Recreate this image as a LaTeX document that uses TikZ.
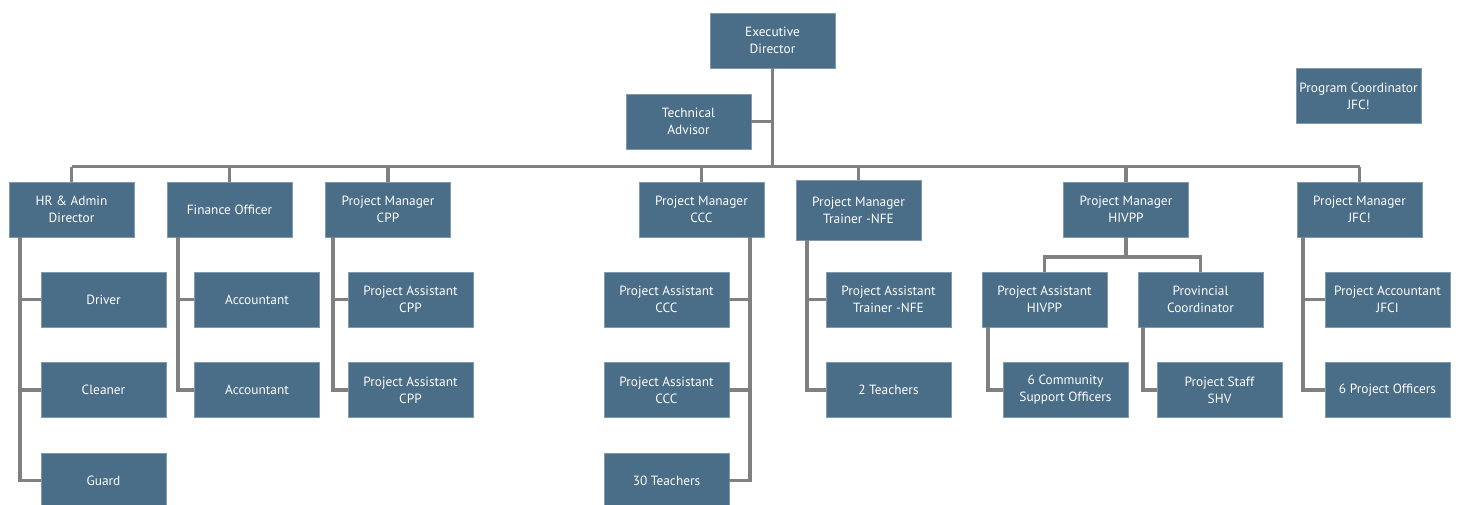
\documentclass[tikz,border=0pt]{standalone}
\usepackage{fontspec}
\setmainfont{PT Sans}
\usepackage{tikz}
\definecolor{boxblue}{HTML}{4A6D88}
\definecolor{linegray}{HTML}{808080}

\begin{document}
\begin{tikzpicture}[x=0.02cm,y=-0.02cm,
  box/.style={rectangle,fill=boxblue,draw=boxblue!70!white,line width=0.4pt,
    minimum width=2.5cm,minimum height=1.1cm,inner sep=0pt,align=center,
    text=white,font=\fontsize{7.6}{9.6}\selectfont},
  conn/.style={draw=linegray,line width=2.2pt}]
  \useasboundingbox (0,0) rectangle (1461,504);
  % top
  \node (exec) at (772.5,40.5) [box] {Executive\\Director};
  \node (tech) at (688.5,121.5) [box] {Technical\\Advisor};
  \node (prog) at (1358.5,96) [box] {Program Coordinator\\JFC!};
  % managers
  \node (hr) at (71.5,209.5) [box] {HR \& Admin\\Director};
  \node (fin) at (229.5,209.5) [box] {Finance Officer};
  \node (pmcpp) at (388,209.5) [box] {Project Manager\\CPP};
  \node (pmccc) at (701.5,209.5) [box] {Project Manager\\CCC};
  \node (pmnfe) at (858.5,210) [box,minimum height=1.2cm] {Project Manager\\Trainer -NFE};
  \node (pmhiv) at (1126,209.5) [box] {Project Manager\\HIVPP};
  \node (pmjfc) at (1359.5,209.5) [box] {Project Manager\\JFC!};
  % staff
  \node (driver) at (103.5,299.5) [box] {Driver};
  \node (cleaner) at (103.5,390) [box] {Cleaner};
  \node (guard) at (103.5,480.5) [box] {Guard};
  \node (acca) at (257,299.5) [box] {Accountant};
  \node (accb) at (257,390) [box] {Accountant};
  \node (pacppa) at (410.5,299.5) [box] {Project Assistant\\CPP};
  \node (pacppb) at (410.5,390) [box] {Project Assistant\\CPP};
  \node (paccca) at (666.5,299.5) [box] {Project Assistant\\CCC};
  \node (pacccb) at (666.5,390) [box] {Project Assistant\\CCC};
  \node (teachccc) at (666.5,480.5) [box] {30 Teachers};
  \node (panfe) at (888.5,299.5) [box] {Project Assistant\\Trainer -NFE};
  \node (teachnfe) at (888.5,390) [box] {2 Teachers};
  \node (pahiv) at (1044.5,299.5) [box] {Project Assistant\\HIVPP};
  \node (prov) at (1200.5,299.5) [box] {Provincial\\Coordinator};
  \node (cso) at (1065.5,390) [box] {6 Community\\Support Officers};
  \node (shv) at (1219.5,390) [box] {Project Staff\\SHV};
  \node (pajfc) at (1387.5,299.5) [box] {Project Accountant\\JFCI};
  \node (offjfc) at (1387.5,390) [box] {6 Project Officers};

  % main bus
  \coordinate (bus) at (exec.south |- 0,166.5);
  \draw[conn] (exec.south) -- (bus);
  \draw[conn] (tech.east) -- (tech.east -| exec.south);
  \draw[conn] (hr.north |- bus) -- (pmjfc.north |- bus);
  \foreach \m in {hr,fin,pmcpp,pmccc,pmnfe,pmhiv,pmjfc}
    \draw[conn] (\m.north) -- (\m.north |- bus);

  % HR
  \draw[conn] (hr.south west) ++(11,0) coordinate (hrl) |- (guard.west);
  \foreach \c in {driver,cleaner} \draw[conn] (\c.west) -- (\c.west -| hrl);
  % finance
  \draw[conn] (fin.south west) ++(11,0) coordinate (finl) |- (accb.west);
  \draw[conn] (acca.west) -- (acca.west -| finl);
  % CPP
  \draw[conn] (pmcpp.south west) ++(8,0) coordinate (cppl) |- (pacppb.west);
  \draw[conn] (pacppa.west) -- (pacppa.west -| cppl);
  % CCC
  \draw[conn] (pmccc.south east) ++(-14,0) coordinate (cccl) |- (teachccc.east);
  \foreach \c in {paccca,pacccb} \draw[conn] (\c.east) -- (\c.east -| cccl);
  % NFE
  \draw[conn] (pmnfe.south west) ++(11,0) coordinate (nfel) |- (teachnfe.west);
  \draw[conn] (panfe.west) -- (panfe.west -| nfel);
  % HIVPP
  \draw[conn] (pmhiv.south) -- ++(0,20) coordinate (hivb);
  \draw[conn] (pahiv.north) |- (hivb) -| (prov.north);
  \draw[conn] (pahiv.south west) ++(6,0) |- (cso.west);
  \draw[conn] (prov.south west) ++(5,0) |- (shv.west);
  % JFC
  \draw[conn] (pmjfc.south west) ++(6,0) coordinate (jfcl) |- (offjfc.west);
  \draw[conn] (pajfc.west) -- (pajfc.west -| jfcl);
\end{tikzpicture}
\end{document}
